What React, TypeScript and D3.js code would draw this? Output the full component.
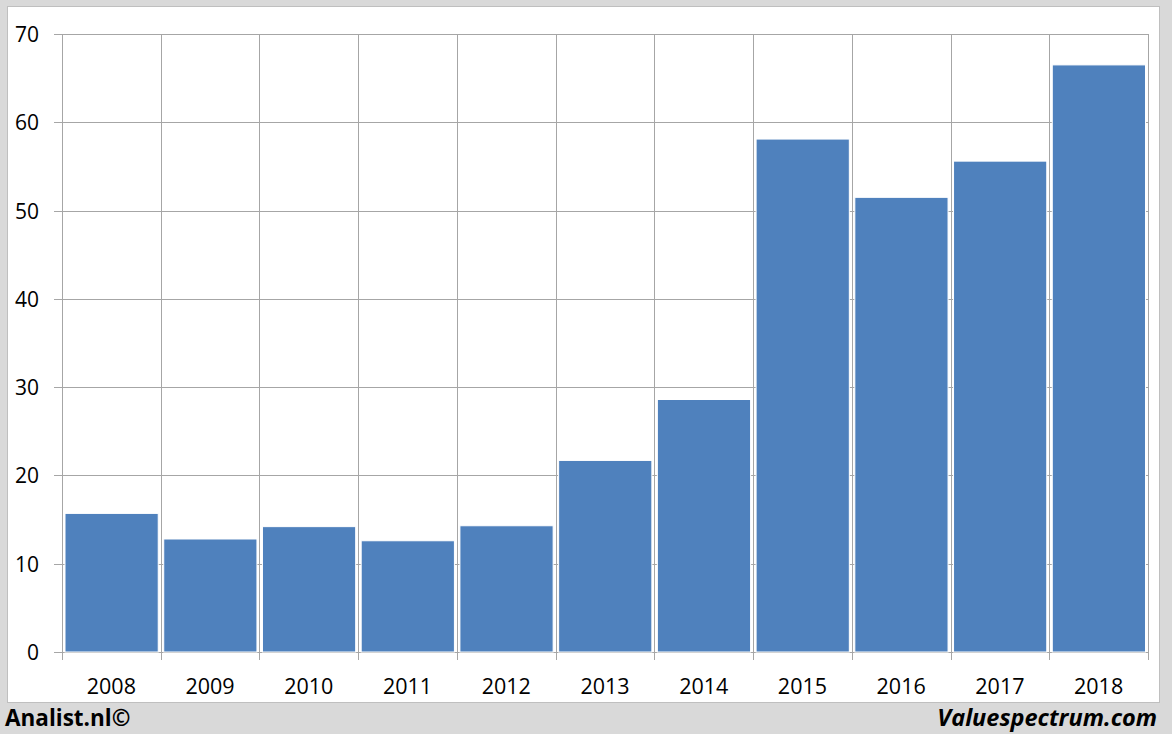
import React from "react";
import * as d3 from "d3";

const years = ["2008", "2009", "2010", "2011", "2012", "2013", "2014", "2015", "2016", "2017", "2018"];
const values = [15.7, 12.8, 14.2, 12.6, 14.3, 21.7, 28.6, 58.1, 51.5, 55.6, 66.5];
const yTicks = [0, 10, 20, 30, 40, 50, 60, 70];

const W = 1172;
const H = 734;
const left = 62;
const right = 1148;
const top = 34;
const bottom = 652;
const font = "'Open Sans', 'Liberation Sans', sans-serif";

export default function App() {
  const x = d3.scaleBand<string>().domain(years).range([left, right]).paddingInner(0).paddingOuter(0);
  const y = d3.scaleLinear().domain([0, 70]).range([bottom, top]);
  const bw = x.bandwidth();
  const pad = 3;
  const boundaries = years.map((yr) => x(yr) as number).concat([right]);

  return (
    <svg width={W} height={H} style={{ position: "absolute", left: 0, top: 0, display: "block" }}>
      <rect x={0} y={0} width={W} height={H} fill="#d9d9d9" />
      <rect x={7.5} y={6.5} width={1152} height={696} fill="#ffffff" stroke="#bfbfbf" strokeWidth={1} />
      {yTicks.map((t) => (
        <line key={"h" + t} x1={54} x2={right} y1={Math.round(y(t)) + 0.5} y2={Math.round(y(t)) + 0.5} stroke="#a6a6a6" strokeWidth={1} />
      ))}
      {boundaries.map((b, i) => (
        <line key={"v" + i} x1={Math.round(b) + 0.5} x2={Math.round(b) + 0.5} y1={top} y2={bottom + 8} stroke="#a6a6a6" strokeWidth={1} />
      ))}
      {years.map((yr, i) => (
        <rect
          key={yr}
          x={(x(yr) as number) + pad}
          y={y(values[i])}
          width={bw - pad * 2 + 0.5}
          height={bottom - y(values[i])}
          fill="#4f81bd"
          stroke="#ffffff"
          strokeWidth={1}
        />
      ))}
      {yTicks.map((t) => (
        <text key={"yl" + t} x={39} y={y(t)} textAnchor="end" dominantBaseline="central" fontFamily={font} fontSize={21} fill="#000">
          {t}
        </text>
      ))}
      {years.map((yr) => (
        <text key={"xl" + yr} x={(x(yr) as number) + bw / 2} y={685} textAnchor="middle" dominantBaseline="central" fontFamily={font} fontSize={21.5} fill="#000">
          {yr}
        </text>
      ))}
      <text x={5} y={717} dominantBaseline="central" fontFamily={font} fontSize={22.5} fontWeight="bold" fill="#000">
        Analist.nl©
      </text>
      <text x={1157} y={717} textAnchor="end" dominantBaseline="central" fontFamily={font} fontSize={23.5} fontWeight="bold" fontStyle="italic" fill="#000">
        Valuespectrum.com
      </text>
    </svg>
  );
}
